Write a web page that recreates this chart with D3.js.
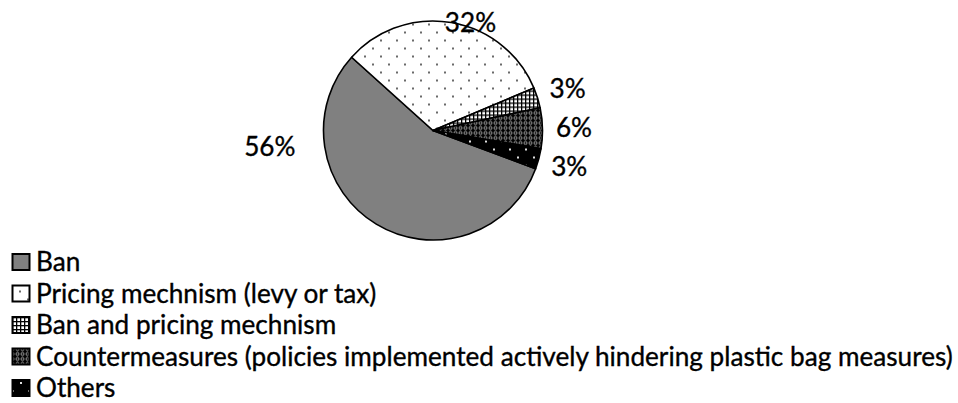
<!DOCTYPE html>
<html>
<head>
<meta charset="utf-8">
<script src="https://cdn.jsdelivr.net/npm/d3@7"></script>
<style>
  html, body { margin: 0; padding: 0; background: #fff; }
  svg { display: block; }
  text { font-family: Lato, "Open Sans", sans-serif; fill: #000; stroke: #000; stroke-width: 0.35px; }
</style>
</head>
<body>
<svg id="chart" width="958" height="403"></svg>
<script>
// Plastic bag policy types, share of countries (%)
const categories = [
  "Ban",
  "Pricing mechnism (levy or tax)",
  "Ban and pricing mechnism",
  "Countermeasures (policies implemented actively hindering plastic bag measures)",
  "Others"
];
const shares = [56, 32, 3, 6, 3];
const shareLabels = ["56%", "32%", "3%", "6%", "3%"];
const patternIds = ["fill-ban", "fill-pricing", "fill-both", "fill-counter", "fill-others"];

const W = 958, H = 403;
const svg = d3.select("#chart");
const defs = svg.append("defs");

// --- fill patterns -------------------------------------------------------
function pattern(id, size, x, y) {
  return defs.append("pattern")
    .attr("id", id)
    .attr("patternUnits", "userSpaceOnUse")
    .attr("width", size).attr("height", size)
    .attr("x", x).attr("y", y);
}
// solid grey
pattern("fill-ban", 8, 0, 0).append("rect")
  .attr("width", 8).attr("height", 8).attr("fill", "#808080");
// sparse dark dots on white
{
  const p = pattern("fill-pricing", 16, 3, 13);
  p.append("rect").attr("width", 16).attr("height", 16).attr("fill", "#fff");
  p.append("rect").attr("x", 0).attr("y", 0).attr("width", 2).attr("height", 2).attr("fill", "#6a6a6a");
  p.append("rect").attr("x", 8).attr("y", 8).attr("width", 2).attr("height", 2).attr("fill", "#6a6a6a");
}
// small grid
{
  const p = pattern("fill-both", 4, 0, 0);
  p.append("rect").attr("width", 4).attr("height", 4).attr("fill", "#fff");
  p.append("rect").attr("x", 0).attr("y", 0).attr("width", 1.3).attr("height", 4).attr("fill", "#000");
  p.append("rect").attr("x", 0).attr("y", 0).attr("width", 4).attr("height", 1.3).attr("fill", "#000");
}
// white chain lattice on black
{
  const p = pattern("fill-counter", 5, 0, 0);
  p.append("rect").attr("width", 5).attr("height", 5).attr("fill", "#000");
  p.append("circle").attr("cx", 2.5).attr("cy", 2.5).attr("r", 1.5)
    .attr("fill", "none").attr("stroke", "#d8d8d8").attr("stroke-width", 0.8);
}
// sparse white dots on black
{
  const p = pattern("fill-others", 16, 12, 2);
  p.append("rect").attr("width", 16).attr("height", 16).attr("fill", "#000");
  p.append("rect").attr("x", 0).attr("y", 0).attr("width", 2).attr("height", 2).attr("fill", "#e0e0e0");
  p.append("rect").attr("x", 8).attr("y", 8).attr("width", 2).attr("height", 2).attr("fill", "#e0e0e0");
}

// --- font size: legend's longest line spans the page width ----------------
const legendX = 36, legendRight = 953;
const probe = svg.append("text").attr("font-size", 100).text(categories[3]);
const fontSize = 100 * (legendRight - legendX) / probe.node().getComputedTextLength();
probe.remove();

// --- pie -----------------------------------------------------------------
const cx = 433, cy = 130.5, R = 109.5;
const deg = Math.PI / 180;
const start = 110.4 * deg;

const pie = d3.pie().sort(null).value(d => d)
  .startAngle(start).endAngle(start + 2 * Math.PI);
const arcs = pie(shares);
const arc = d3.arc().innerRadius(0).outerRadius(R);

const g = svg.append("g").attr("transform", `translate(${cx},${cy})`);
g.selectAll("path.slice")
  .data(arcs)
  .join("path")
  .attr("class", "slice")
  .attr("d", arc)
  .attr("fill", (d, i) => `url(#${patternIds[i]})`)
  .attr("stroke", "#000")
  .attr("stroke-width", 1.6)
  .attr("stroke-linejoin", "round");

// --- value labels ----------------------------------------------------------
// small slices: just outside the rim on the slice bisector;
// large slices: best-fit spots
function labelSpot(d, i) {
  let a = (d.startAngle + d.endAngle) / 2, r = 141;
  if (i === 0) { a = 264.4 * deg; r = 164; }
  if (i === 1) { a = 19.2 * deg; r = 114; }
  return [Math.sin(a) * r, -Math.cos(a) * r];
}
g.selectAll("text.value")
  .data(arcs)
  .join("text")
  .attr("class", "value")
  .attr("text-anchor", "middle")
  .attr("font-size", fontSize)
  .attr("x", (d, i) => labelSpot(d, i)[0])
  .attr("y", (d, i) => labelSpot(d, i)[1])
  .attr("dy", "0.36em")
  .text((d, i) => shareLabels[i]);

// --- legend ----------------------------------------------------------------
const rowY = d3.scalePoint().domain(d3.range(categories.length)).range([262, 388]);
const legend = svg.append("g");
const rows = legend.selectAll("g.row")
  .data(categories)
  .join("g")
  .attr("class", "row")
  .attr("transform", (d, i) => `translate(0,${rowY(i)})`);
rows.append("rect")
  .attr("x", 12.5).attr("y", -8)
  .attr("width", 17).attr("height", 16)
  .attr("fill", (d, i) => `url(#${patternIds[i]})`)
  .attr("stroke", "#000").attr("stroke-width", 2);
rows.append("text")
  .attr("x", legendX)
  .attr("y", 0)
  .attr("dy", "0.36em")
  .attr("font-size", fontSize)
  .text(d => d);
</script>
</body>
</html>
